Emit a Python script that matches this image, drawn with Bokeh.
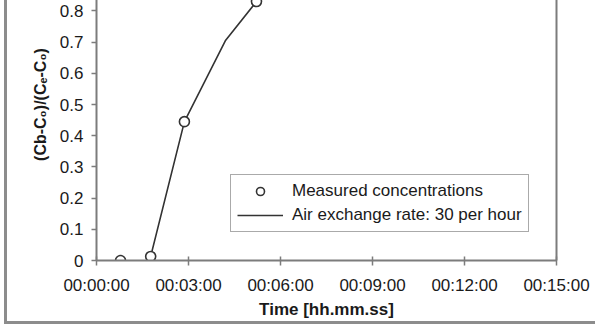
from bokeh.plotting import figure
from bokeh.models import (ColumnDataSource, FixedTicker, LinearAxis, Legend,
                          LegendItem, Range1d)
from bokeh.embed import file_html
from bokeh.resources import INLINE

# ---- data ----
meas_time_s = [47, 106, 172, 313]
meas_value = [0.0, 0.013, 0.445, 0.83]
model_time_s = [106, 172, 252, 313]
model_value = [0.013, 0.445, 0.704, 0.83]

x_ticks_s = [0, 180, 360, 540, 720, 900]
x_tick_labels = ["00:00:00", "00:03:00", "00:06:00", "00:09:00", "00:12:00", "00:15:00"]
y_ticks = [0, 0.1, 0.2, 0.3, 0.4, 0.5, 0.6, 0.7, 0.8]
y_tick_labels = ["0", "0.1", "0.2", "0.3", "0.4", "0.5", "0.6", "0.7", "0.8"]
x_title = "Time [hh.mm.ss]"
y_title = "(Cb-C\u2080)/(C\u2091-C\u2080)"
legend_labels = ["Measured concentrations", "Air exchange rate: 30 per hour"]

FONT = "Liberation Sans"
TXT = "#1a1a1a"
AX = "#7c7c7c"

# The reference is a crop of a taller chart (y axis to 1.0); the top 52 px lie above the page.
W, H = 591, 376
p = figure(width=W, height=H, output_backend="svg", toolbar_location=None,
           x_range=Range1d(0, 900), y_range=Range1d(0, 1.0),
           min_border_left=89, min_border_right=42, min_border_top=0,
           min_border_bottom=64, background_fill_color="white",
           border_fill_color="white")
p.outline_line_color = None
p.grid.visible = False
p.styles = {"border-left": "3px solid #8c8c8c", "border-bottom": "3px solid #8c8c8c",
            "margin-left": "4px", "margin-top": "-52px"}

src_m = ColumnDataSource(dict(t=meas_time_s, v=meas_value))
src_l = ColumnDataSource(dict(t=model_time_s, v=model_value))

r_line = p.line("t", "v", source=src_l, line_color="#333333", line_width=1.6)
r_circ = p.scatter("t", "v", source=src_m, marker="circle", size=10,
                   fill_color="white", line_color="#333333", line_width=1.6)

xa = p.xaxis[0]
xa.ticker = FixedTicker(ticks=x_ticks_s)
xa.major_label_overrides = dict(zip(x_ticks_s, x_tick_labels))
xa.minor_tick_line_color = None
xa.major_tick_in = 4
xa.major_tick_out = 5
xa.axis_line_color = AX
xa.axis_line_width = 2
xa.major_tick_line_color = AX
xa.major_tick_line_width = 1.5
xa.major_label_text_font = FONT
xa.major_label_text_font_size = "17px"
xa.major_label_text_color = TXT
xa.major_label_standoff = 10
xa.axis_label = x_title
xa.axis_label_text_font = FONT
xa.axis_label_text_font_style = "bold"
xa.axis_label_text_font_size = "17px"
xa.axis_label_text_color = TXT
xa.axis_label_standoff = 2

ya = p.yaxis[0]
ya.ticker = FixedTicker(ticks=y_ticks)
ya.major_label_overrides = dict(zip(y_ticks, y_tick_labels))
ya.minor_tick_line_color = None
ya.major_tick_in = 0
ya.major_tick_out = 5
ya.axis_line_color = AX
ya.axis_line_width = 2
ya.major_tick_line_color = AX
ya.major_tick_line_width = 1.5
ya.major_label_text_font = FONT
ya.major_label_text_font_size = "17px"
ya.major_label_text_color = TXT
ya.major_label_standoff = 8
ya.axis_label = y_title
ya.axis_label_text_font = FONT
ya.axis_label_text_font_style = "bold"
ya.axis_label_text_font_size = "16px"
ya.axis_label_text_color = TXT
ya.axis_label_standoff = 8

ra = LinearAxis(ticker=FixedTicker(ticks=[]), axis_line_color=AX, axis_line_width=2,
                major_tick_line_color=None, minor_tick_line_color=None)
p.add_layout(ra, "right")

legend = Legend(items=[LegendItem(label=legend_labels[0], renderers=[r_circ]),
                       LegendItem(label=legend_labels[1], renderers=[r_line])],
                location=(134, 28), orientation="vertical")
legend.label_text_font = FONT
legend.label_text_font_size = "17px"
legend.label_text_color = TXT
legend.glyph_width = 46
legend.glyph_height = 20
legend.label_height = 20
legend.label_standoff = 9
legend.spacing = 4
legend.padding = 6
legend.margin = 0
legend.border_line_color = "#555555"
legend.border_line_width = 1.5
legend.background_fill_color = "white"
legend.background_fill_alpha = 1
p.add_layout(legend, "center")

open("out.html", "w").write(file_html(p, INLINE))
